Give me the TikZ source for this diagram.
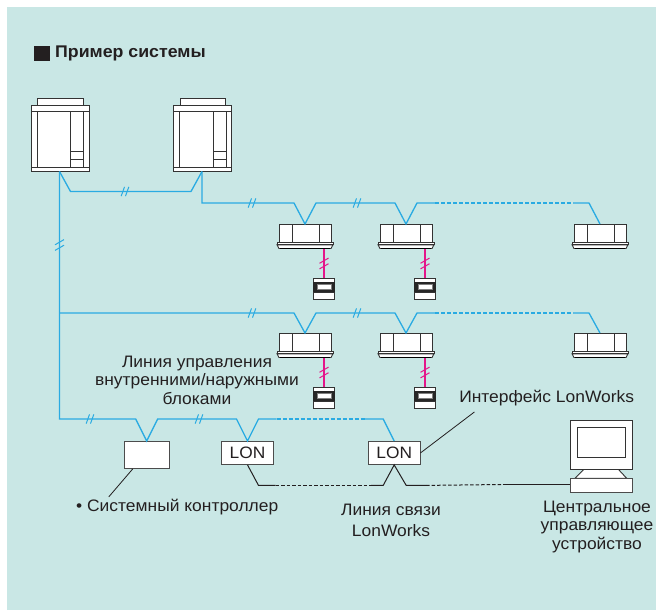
\documentclass[tikz,border=0pt]{standalone}
\usepackage{fontspec}
\setmainfont[FakeStretch=1.05]{Liberation Sans}
\usetikzlibrary{arrows.meta, positioning, calc}
\definecolor{figteal}{HTML}{C9E7E5}
\definecolor{figcyan}{HTML}{2AABE2}
\definecolor{figmagenta}{HTML}{E4168A}
\definecolor{figink}{HTML}{231F20}
\tikzset{
  unitline/.style={draw=black!80, line width=0.9pt},
  figbox/.style={draw=black!70, fill=white, line width=0.9pt, inner sep=0pt,
    font=\fontsize{16.5}{18}\selectfont, text=figink},
  pipe/.style={figcyan, line width=1.3pt},
  pipedash/.style={pipe, dash pattern=on 4pt off 2pt},
  rcwire/.style={figmagenta, line width=1.1pt},
  bus/.style={figink, line width=1pt},
  busdash/.style={bus, dash pattern=on 3.5pt off 2pt},
  leader/.style={figink, line width=0.8pt},
  figlabel/.style={font=\fontsize{16.6}{18.5}\selectfont, text=figink, align=center, inner sep=0pt},
  outdoorunit/.pic={
    \filldraw[unitline, fill=white] (6.5,-6.5) rectangle (52,0);
    \filldraw[unitline, fill=white] (0,0) rectangle (58,66.5);
    \draw[unitline] (0,6) -- (58,6) (0,62) -- (58,62) (6,6) -- (6,62) (52.5,6) -- (52.5,62)
      (39.5,6) -- (39.5,62) (39.5,46.5) -- (52.5,46.5) (39.5,54.5) -- (52.5,54.5);
    \coordinate (-out) at (28.5,66.5);
  },
  indoorunit/.pic={
    \filldraw[unitline, fill=white] (-26,0) rectangle (26,18);
    \draw[unitline] (-13,0) -- (-13,18) (14,0) -- (14,18);
    \filldraw[unitline, fill=white] (-28,20.8) -- (28,20.8) -- (26,24.5) -- (-26,24.5) -- cycle;
    \filldraw[unitline, fill=white] (-28,18) rectangle (28,20.8);
    \draw[black, line width=1.6pt] (-25,24.5) -- (25,24.5);
    \coordinate (-top) at (0,0);
    \coordinate (-rc) at (19,25);
  },
  remotebox/.pic={
    \filldraw[unitline, fill=white] (-10.8,0) rectangle (10.8,21.5);
    \fill[black!85] (-10.8,3.5) rectangle (10.8,13.5);
    \filldraw[fill=white, draw=black!50, line width=0.6pt] (-7,6) rectangle (7,11.5);
    \draw[unitline] (-10.8,14.5) -- (10.8,14.5);
    \coordinate (-top) at (0,0);
  },
  pipebreak/.pic={
    \draw[line width=1pt] (-3.8,4.6) -- (-0.5,-4.6) (0.5,4.6) -- (3.8,-4.6);
  },
  wirebreak/.pic={
    \draw[line width=1pt] (-4.5,-0.2) -- (4.5,-5.4) (-4.5,5.4) -- (4.5,0.2);
  },
}

\begin{document}
\begin{tikzpicture}[x=1pt, y=-1pt]
  \useasboundingbox (0,0) rectangle (656,610);
  \fill[figteal] (7,7) rectangle (656,609.5);

  % heading
  \fill[figink] (34,46) rectangle (50,61);
  \node[figlabel, font=\bfseries\fontsize{16.9}{18}\selectfont, anchor=west] (title) at (55,53.5) {Пример системы};

  % units
  \pic (ou1) at (31,105) {outdoorunit};
  \pic (ou2) at (173.5,105) {outdoorunit};
  \foreach \r/\y in {1/224, 2/333} {
    \pic (iu\r1) at (305,\y) {indoorunit};
    \pic (iu\r2) at (406,\y) {indoorunit};
    \pic (iu\r3) at (600,\y) {indoorunit};
  }

  % remote controllers
  \foreach \r in {1,2} {
    \foreach \c in {1,2} {
      \pic (rc\r\c) at ($(iu\r\c-rc)+(0,29)$) {remotebox};
      \draw[rcwire] (iu\r\c-rc) -- (rc\r\c-top);
      \pic[figmagenta] at ($(iu\r\c-rc)!0.5!(rc\r\c-top)$) {wirebreak};
    }
  }

  % controller boxes
  \node[figbox, anchor=north, minimum width=45, minimum height=27] (sc) at (146.7,441) {};
  \node[figbox, anchor=north, minimum width=51.6, minimum height=23] (lon1) at (247.5,441) {LON};
  \node[figbox, anchor=north, minimum width=51.6, minimum height=23] (lon2) at (394.2,441) {LON};

  % monitor
  \filldraw[unitline, fill=white] (584,469.3) -- (618.3,469.3) -- (626.7,478.3) -- (575,478.3) -- cycle;
  \node[figbox, minimum width=62.3, minimum height=14] (pc) at (601.2,485) {};
  \filldraw[unitline, fill=white] (570,420.7) rectangle (632.3,469.3);
  \draw[unitline] (577.7,427.7) rectangle (625,457.3);

  % refrigerant / control line
  \coordinate (row1) at ($(iu11-top)+(-11,-21)$);
  \coordinate (row2) at ($(iu21-top)+(-11,-20)$);
  \draw[pipe] (ou1-out) -- ++(11,20) -- ($(ou2-out)+(-11,20)$) -- (ou2-out);
  \draw[pipe] (ou2-out) |- (row1) -- (iu11-top) -- ++(11,-21) -- ($(iu12-top)+(-11,-21)$)
    -- (iu12-top) -- ++(11,-21) -- ++(18,0);
  \draw[pipedash] ($(iu12-top)+(29,-21)$) -- ($(iu13-top)+(-27,-21)$);
  \draw[pipe] ($(iu13-top)+(-27,-21)$) -- ++(16,0) -- (iu13-top);

  \draw[pipe] (ou1-out |- row2) -- (row2) -- (iu21-top) -- ++(11,-20) -- ($(iu22-top)+(-11,-20)$)
    -- (iu22-top) -- ++(11,-20) -- ++(18,0);
  \draw[pipedash] ($(iu22-top)+(29,-20)$) -- ($(iu23-top)+(-27,-20)$);
  \draw[pipe] ($(iu23-top)+(-27,-20)$) -- ++(16,0) -- (iu23-top);

  \draw[pipe] (ou1-out) |- ($(sc.north)+(-11,-22)$) -- (sc.north) -- ++(11,-22)
    -- ($(lon1.north)+(-11,-22)$) -- (lon1.north) -- ++(11,-22) -- ++(18,0);
  \draw[pipedash] ($(lon1.north)+(29,-22)$) -- ($(lon2.north)+(-29,-22)$);
  \draw[pipe] ($(lon2.north)+(-29,-22)$) -- ++(18,0) -- (lon2.north);

  \foreach \p in {(125,191.5), (252,203), (357,203), (252,313), (357,313), (90,419), (199,419)}
    \pic[figcyan] at \p {pipebreak};
  \pic[figcyan] at (59.5,245) {wirebreak};

  % LonWorks bus
  \draw[bus] (lon1.south) -- ++(11,20.5) -- ++(17,0);
  \draw[busdash] ($(lon1.south)+(28,20.5)$) -- ($(lon2.south)+(-23,20.5)$);
  \draw[bus] ($(lon2.south)+(-23,20.5)$) -- ++(12,0) -- (lon2.south) -- ++(12,20.5) -- ++(20,0);
  \draw[busdash] ($(lon2.south)+(32,20.5)$) -- ($(pc.west)+(-67,-0.5)$);
  \draw[bus] ($(pc.west)+(-67,-0.5)$) -- ($(pc.west)+(0,-0.5)$);

  % labels
  \node[figlabel] (ctlline) at (197,380) {Линия управления\\внутренними/наружными\\блоками};
  \node[figlabel, anchor=west] (sclabel) at (76,507) {• Системный контроллер};
  \draw[leader] ($(sc.south west)+(9,0)$) -- ++(-24,28);
  \node[figlabel] (ifclabel) at (546.7,398.3) {Интерфейс LonWorks};
  \draw[leader] (lon2.east) -- ++(54,-41);
  \node[figlabel, font=\fontsize{16.6}{21}\selectfont] (buslabel) at (391,520.5) {Линия связи\\LonWorks};
  \node[figlabel] (pclabel) at (597,527) {Центральное\\управляющее\\устройство};
\end{tikzpicture}
\end{document}
